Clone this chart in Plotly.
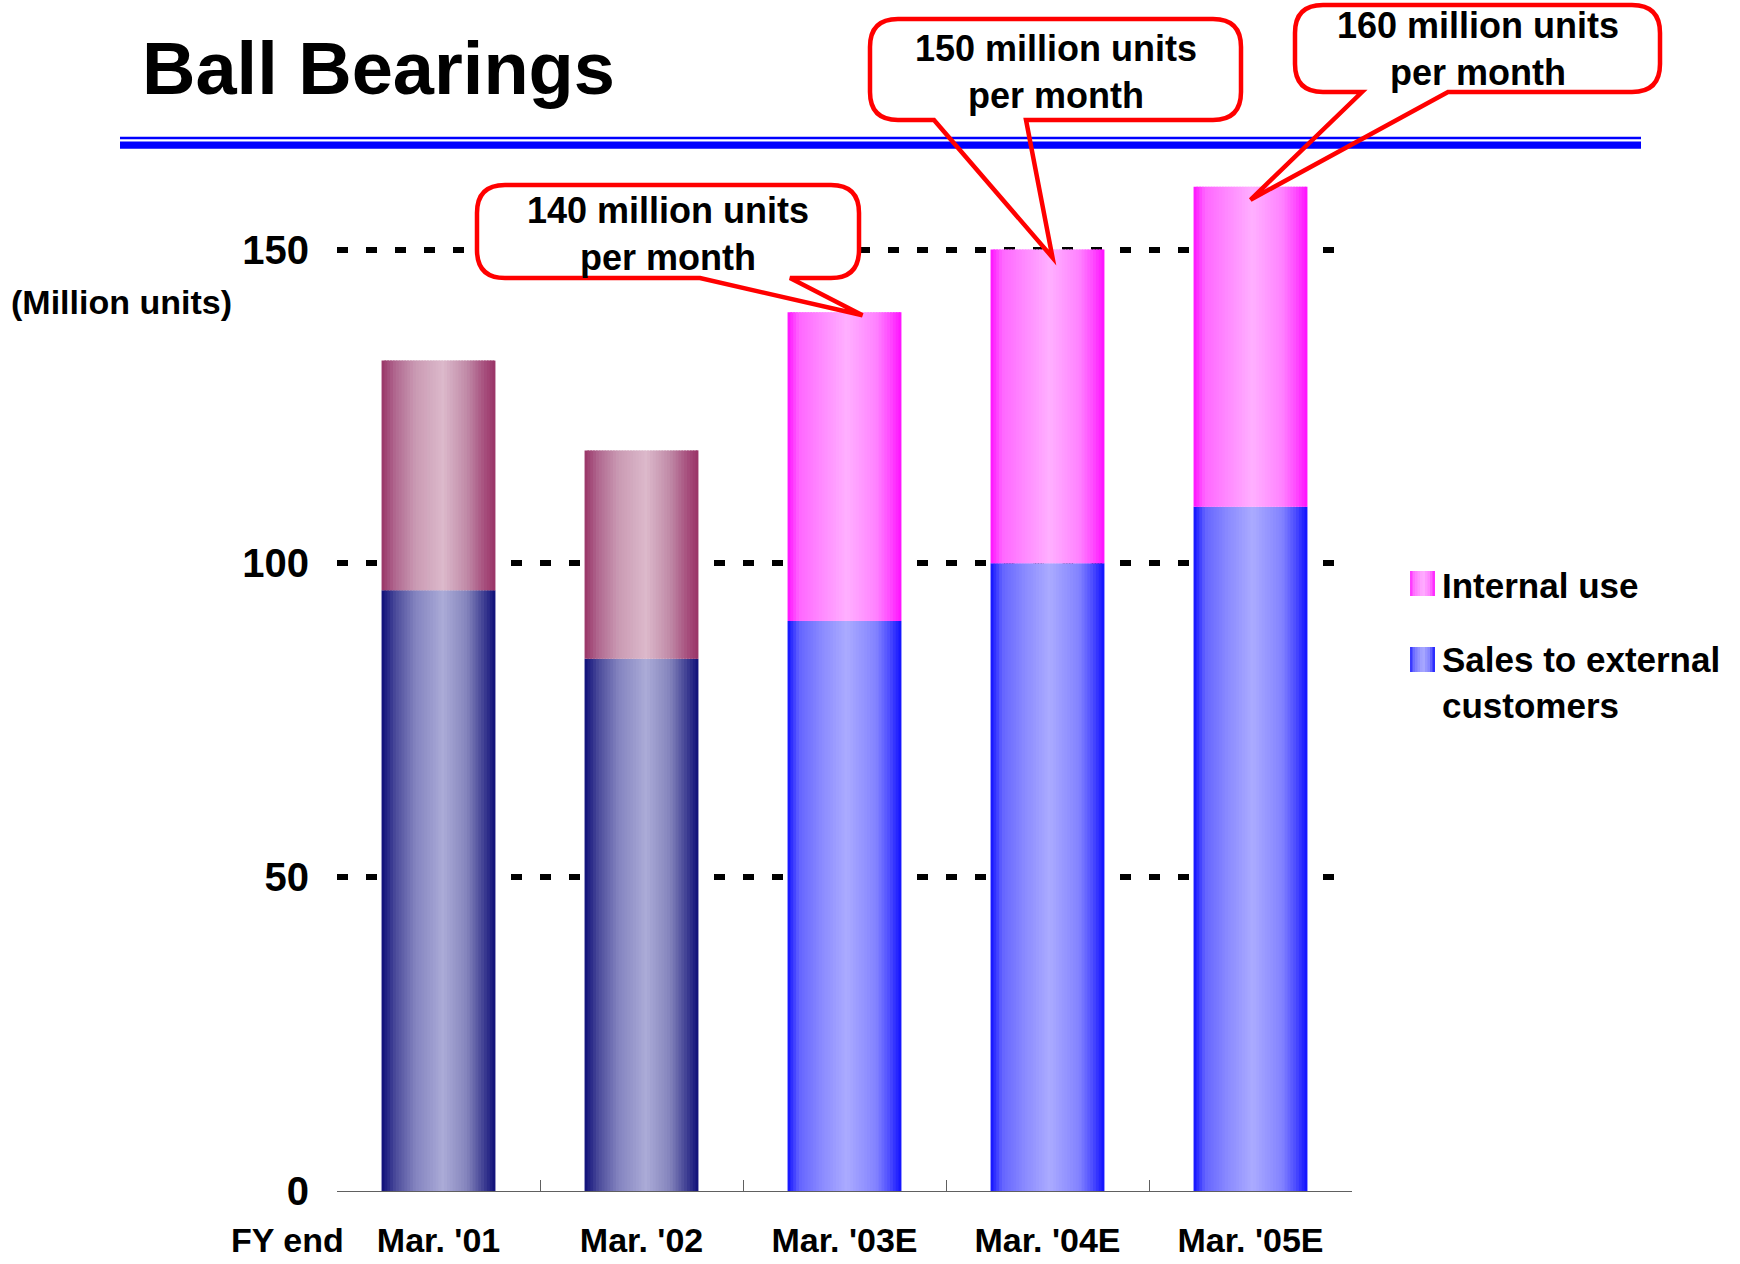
import plotly.graph_objects as go

# ---------------- data ----------------
periods = ["Mar. '01", "Mar. '02", "Mar. '03E", "Mar. '04E", "Mar. '05E"]
external_sales = [95.7, 84.8, 90.8, 100.0, 109.0]   # million units
internal_use = [36.6, 33.2, 49.2, 50.0, 51.0]       # million units
is_estimate = [False, False, True, True, True]
y_ticks = [0, 50, 100, 150]

callout_periods = ["Mar. '03E", "Mar. '04E", "Mar. '05E"]
callout_texts = ["140 million units<br>per month",
                 "150 million units<br>per month",
                 "160 million units<br>per month"]
legend_labels = ["Internal use", "Sales to external<br>customers"]

# ---------------- page geometry (pixels) ----------------
W, H = 1740, 1264
PLOT_L, PLOT_R = 337, 1352
PLOT_T, PLOT_B = 124, 1191
Y_MAX = 170
FONT = "Liberation Sans, Arial, Helvetica, sans-serif"


def px_x(px):
    return (px - PLOT_L) / (PLOT_R - PLOT_L)


def px_y(py):
    return (PLOT_B - py) / (PLOT_B - PLOT_T)


def data_px(i, value):
    n = len(periods)
    x = PLOT_L + (i + 0.5) / n * (PLOT_R - PLOT_L)
    y = PLOT_B - value / Y_MAX * (PLOT_B - PLOT_T)
    return x, y


# ---------------- cylinder-style gradients ----------------
NAVY = [(0, "#0E0E78"), (0.12, "#4A4A9A"), (0.3, "#8484C0"), (0.54, "#ABABD7"),
        (0.75, "#8484BC"), (0.9, "#3E3E92"), (1, "#0E0E78")]
PLUM = [(0, "#993366"), (0.12, "#B06890"), (0.3, "#CA9AB3"), (0.54, "#DCB9CB"),
        (0.75, "#C08AA7"), (0.9, "#A7507E"), (1, "#993366")]
BLUE = [(0, "#1010FF"), (0.1, "#6464FF"), (0.3, "#8A8AFF"), (0.52, "#ABABFF"),
        (0.78, "#8282FF"), (0.9, "#4A4AFF"), (1, "#1010FF")]
MAGENTA = [(0, "#FF10FF"), (0.1, "#FF66FF"), (0.3, "#FF8AFF"), (0.52, "#FFB0FF"),
           (0.78, "#FF82FF"), (0.9, "#FF4AFF"), (1, "#FF10FF")]


def hex_rgb(h):
    h = h.lstrip("#")
    return [int(h[k:k + 2], 16) for k in (0, 2, 4)]


def sample(scale, t):
    for (p0, c0), (p1, c1) in zip(scale[:-1], scale[1:]):
        if p0 <= t <= p1:
            f = (t - p0) / (p1 - p0) if p1 > p0 else 0
            a, b = hex_rgb(c0), hex_rgb(c1)
            r, g, bl = (round(a[k] + (b[k] - a[k]) * f) for k in range(3))
            return f"rgb({r},{g},{bl})"
    return scale[-1][1]


# ---------------- bars (drawn as narrow slices for the gradient) ----------------
BAR_W = 0.561
N_SLICES = 40
step = BAR_W / N_SLICES

fig = go.Figure()

series = [
    (external_sales, None, NAVY, BLUE, "Sales to external customers"),
    (internal_use, external_sales, PLUM, MAGENTA, "Internal use"),
]
for values, base, actual_scale, est_scale, name in series:
    for k in range(N_SLICES):
        t = (k + 0.5) / N_SLICES
        off = -BAR_W / 2 + k * step
        width = min(step * 1.6, BAR_W / 2 - off)
        colors = [sample(est_scale if e else actual_scale, t) for e in is_estimate]
        fig.add_trace(go.Bar(
            x=periods, y=values, base=base, name=name,
            offset=off, width=width,
            marker=dict(color=colors, line=dict(width=0)),
            showlegend=False, hoverinfo="skip",
        ))

# ---------------- decorations ----------------
shapes = []

# double blue rule under the title
shapes.append(dict(type="rect", xref="paper", yref="paper", layer="above",
                   x0=px_x(120), x1=px_x(1641), y0=px_y(139.3), y1=px_y(136.7),
                   fillcolor="#0000FF", line=dict(width=0)))
shapes.append(dict(type="rect", xref="paper", yref="paper", layer="above",
                   x0=px_x(120), x1=px_x(1641), y0=px_y(148.7), y1=px_y(141.4),
                   fillcolor="#0000FF", line=dict(width=0)))


def fmt(px, py):
    return f"{px_x(px):.5f},{px_y(py):.5f}"


def rounded_box(x0, y0, x1, y1, r, pointer=None):
    p = [f"M{fmt(x0 + r, y0)}", f"L{fmt(x1 - r, y0)}",
         f"Q{fmt(x1, y0)} {fmt(x1, y0 + r)}", f"L{fmt(x1, y1 - r)}",
         f"Q{fmt(x1, y1)} {fmt(x1 - r, y1)}"]
    if pointer:
        bl, br, (tx, ty) = pointer
        p += [f"L{fmt(br, y1)}", f"L{fmt(tx, ty)}", f"L{fmt(bl, y1)}"]
    p += [f"L{fmt(x0 + r, y1)}", f"Q{fmt(x0, y1)} {fmt(x0, y1 - r)}",
          f"L{fmt(x0, y0 + r)}", f"Q{fmt(x0, y0)} {fmt(x0 + r, y0)}"]
    return " ".join(p) + " Z"


# callout boxes: (left, top, right, bottom), pointer base left/right, tip offset, text centre
callout_layout = [
    dict(box=(477, 185, 859, 278), base=(700, 790), tip_off=(18, 3), text_xy=(668, 234)),
    dict(box=(870, 19, 1241, 120), base=(934, 1026), tip_off=(5, 8), text_xy=(1056, 72)),
    dict(box=(1295, 5, 1660, 92), base=(1362, 1448), tip_off=(0, 13), text_xy=(1478, 49)),
]

annotations = []
for period, text, lay in zip(callout_periods, callout_texts, callout_layout):
    i = periods.index(period)
    total = external_sales[i] + internal_use[i]
    cx, cy = data_px(i, total)
    tip = (cx + lay["tip_off"][0], cy + lay["tip_off"][1])
    x0, y0, x1, y1 = lay["box"]
    shapes.append(dict(type="path", xref="paper", yref="paper", layer="above",
                       path=rounded_box(x0, y0, x1, y1, 28),
                       fillcolor="white", line=dict(width=0)))
    shapes.append(dict(type="path", xref="paper", yref="paper", layer="above",
                       path=rounded_box(x0, y0, x1, y1, 28,
                                        pointer=(lay["base"][0], lay["base"][1], tip)),
                       fillcolor="rgba(0,0,0,0)", line=dict(color="#FF0000", width=4.5)))
    annotations.append(dict(text=text, xref="paper", yref="paper",
                            x=px_x(lay["text_xy"][0]), y=px_y(lay["text_xy"][1]),
                            xanchor="center", yanchor="middle", showarrow=False,
                            font=dict(family=FONT, size=36, color="black", weight="bold")))

# legend keys with the same gradients
legend_keys = [(MAGENTA, 571, 596, 585), (BLUE, 647, 672, 682)]
for (scale, ky0, ky1, ty), label in zip(legend_keys, legend_labels):
    n = 10
    kx0, kx1 = 1410, 1435
    for k in range(n):
        sx0 = kx0 + (kx1 - kx0) * k / n
        sx1 = kx0 + (kx1 - kx0) * (k + 1) / n + 0.6
        shapes.append(dict(type="rect", xref="paper", yref="paper", layer="above",
                           x0=px_x(sx0), x1=px_x(min(sx1, kx1)), y0=px_y(ky1), y1=px_y(ky0),
                           fillcolor=sample(scale, (k + 0.5) / n), line=dict(width=0)))
    annotations.append(dict(text=label, xref="paper", yref="paper",
                            x=px_x(1440), y=px_y(ty), xanchor="left", yanchor="middle",
                            align="left", showarrow=False,
                            font=dict(family=FONT, size=35, color="black", weight="bold")))

# title and axis captions
annotations += [
    dict(text="Ball Bearings", xref="paper", yref="paper", x=px_x(140), y=px_y(68),
         xanchor="left", yanchor="middle", showarrow=False,
         font=dict(family=FONT, size=74, color="black", weight="bold")),
    dict(text="(Million units)", xref="paper", yref="paper", x=px_x(9), y=px_y(302),
         xanchor="left", yanchor="middle", showarrow=False,
         font=dict(family=FONT, size=34, color="black", weight="bold")),
    dict(text="FY end", xref="paper", yref="paper", x=px_x(229), y=px_y(1240),
         xanchor="left", yanchor="middle", showarrow=False,
         font=dict(family=FONT, size=34, color="black", weight="bold")),
]

fig.update_layout(
    width=W, height=H,
    margin=dict(l=PLOT_L, r=W - PLOT_R, t=PLOT_T, b=H - PLOT_B, pad=0, autoexpand=False),
    paper_bgcolor="white", plot_bgcolor="white",
    barmode="overlay",
    showlegend=False,
    shapes=shapes,
    annotations=annotations,
    xaxis=dict(
        type="category", range=[-0.5, len(periods) - 0.5], automargin=False,
        showline=True, linecolor="#606060", linewidth=1.3,
        ticks="inside", tickson="boundaries", ticklen=11, tickwidth=1.3, tickcolor="#606060",
        showgrid=False, zeroline=False,
        ticklabelstandoff=19,
        tickfont=dict(family=FONT, size=34, color="black", weight="bold"),
    ),
    yaxis=dict(
        range=[0, Y_MAX], tickmode="array", tickvals=y_ticks, automargin=False,
        showline=False, ticks="",
        showgrid=True, gridcolor="black", gridwidth=6, griddash="11px,18px",
        zeroline=True, zerolinecolor="#606060", zerolinewidth=1.3,
        ticklabelstandoff=27,
        tickfont=dict(family=FONT, size=40, color="black", weight="bold"),
    ),
)

fig.write_html("out.html")
